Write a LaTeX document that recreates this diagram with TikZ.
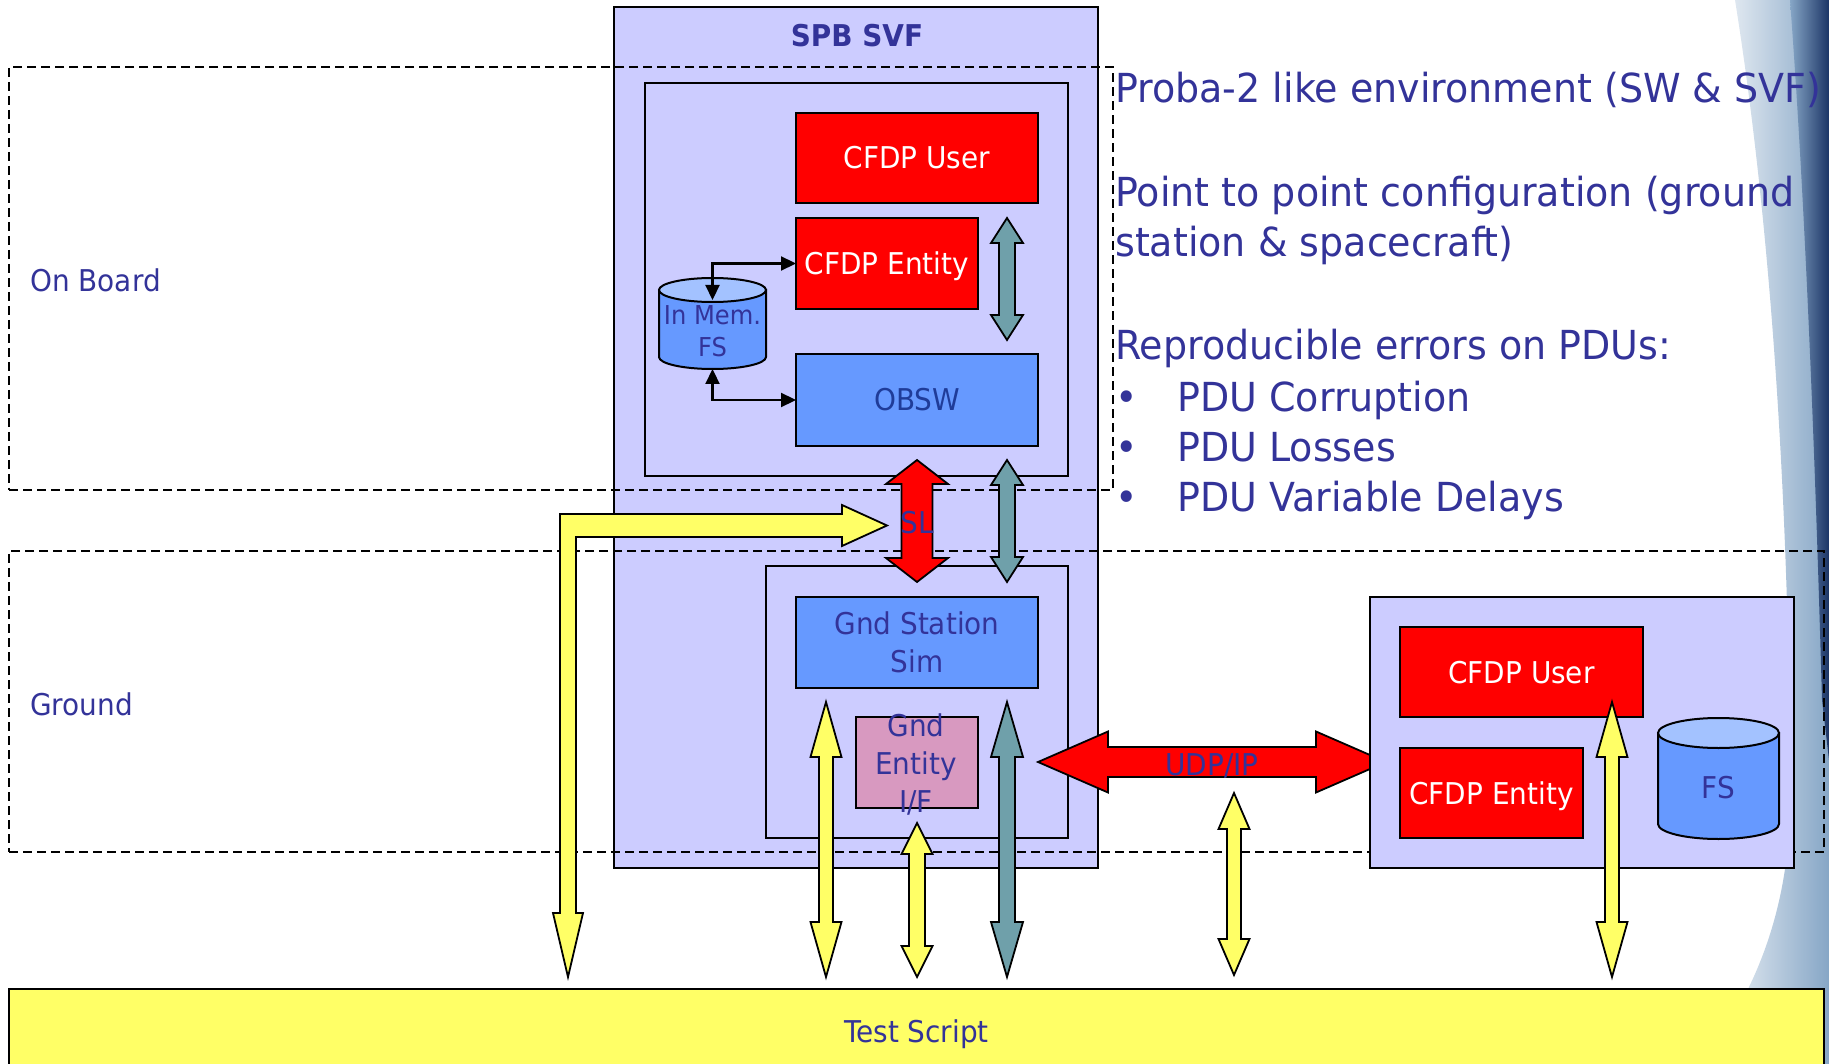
\documentclass[tikz,border=0pt]{standalone}
\usepackage{fontspec}
\setmainfont{DejaVu Sans}[FakeStretch=0.93]
\newfontfamily\bigfont{DejaVu Sans}[FakeStretch=0.95]
\usetikzlibrary{calc,arrows.meta}
\definecolor{lav}{HTML}{CCCCFF}
\definecolor{navy}{HTML}{333399}
\definecolor{obswtxt}{HTML}{1F3C99}
\definecolor{redb}{HTML}{FF0000}
\definecolor{blueb}{HTML}{6699FF}
\definecolor{bluetop}{HTML}{A3C2FF}
\definecolor{tealb}{HTML}{6FA0AA}
\definecolor{yelb}{HTML}{FFFF66}
\definecolor{pinkb}{HTML}{D899C0}
\definecolor{decoa}{HTML}{86A6C6}
\definecolor{decob}{HTML}{1C3566}
\tikzset{
  every node/.style={font=\fontsize{30}{38}\selectfont},
  blk/.style={draw=black,line width=2pt,inner sep=0pt,outer sep=0pt},
  capc/.style={text height=22pt,text depth=0pt},
  lavbox/.style={blk,fill=lav},
  redbox/.style={blk,fill=redb,text=white,capc},
  bluebox/.style={blk,fill=blueb,text=navy},
  dashbox/.style={draw=black,line width=1.6pt,dash pattern=on 9pt off 5pt,inner sep=0pt,outer sep=0pt},
  lbl/.style={text=navy,inner sep=0pt},
  barrow/.style={draw=black,line width=1.8pt,line join=miter},
  thinarrow/.style={draw=black,line width=2.2pt,{Triangle[length=15pt,width=14pt]}-{Triangle[length=15pt,width=14pt]}},
  bigtext/.style={lbl,font=\bigfont\fontsize{40}{48}\selectfont,anchor=base west},
  cylbody/.style={draw=black,line width=2pt,fill=blueb},
  cyltop/.style={draw=black,line width=2pt,fill=bluetop},
}
% block double arrow: style, start, end, shaft half width, head half width, head length
\newcommand\blockarrow[6]{%
  \coordinate (bap) at ($(#2)!#6!(#3)$);
  \coordinate (baq) at ($(#3)!#6!(#2)$);
  \filldraw[barrow,#1] (#2) -- ($(bap)!#5!90:(#3)$) -- ($(bap)!#4!90:(#3)$)
    -- ($(baq)!#4!-90:(#2)$) -- ($(baq)!#5!-90:(#2)$) -- (#3)
    -- ($(baq)!#5!90:(#2)$) -- ($(baq)!#4!90:(#2)$)
    -- ($(bap)!#4!-90:(#3)$) -- ($(bap)!#5!-90:(#3)$) -- cycle;}
\begin{document}
\begin{tikzpicture}[x=1pt,y=1pt]
\useasboundingbox (0,0) rectangle (1829,-1064);
% background decoration at the right edge
\shade[left color=white,right color=decoa] (1735,0) .. controls (1775,-250) and (1790,-550) .. (1790,-800) .. controls (1790,-900) and (1760,-990) .. (1700,-1064) -- (1829,-1064) -- (1829,0) -- cycle;
\shade[left color=decoa,right color=decob] (1790,0) .. controls (1805,-200) and (1815,-450) .. (1822,-700) -- (1829,-760) -- (1829,0) -- cycle;

% SPB SVF
\node[lavbox,minimum width=484pt,minimum height=861pt] (svf) at (856,-437.5) {};
\node[lbl,font=\bfseries\fontsize{30}{36}\selectfont,anchor=base] (svft) at (857,-46.7) {SPB SVF};
\node[lavbox,minimum width=423pt,minimum height=393pt] (obin) at (856.5,-279.5) {};
\node[lavbox,minimum width=302pt,minimum height=272pt] (gdin) at (917,-702) {};
\node[redbox,minimum width=242pt,minimum height=90pt] (cu1) at (917,-158) {CFDP User};
\node[redbox,minimum width=182pt,minimum height=91pt] (ce1) at (887,-263.5) {CFDP Entity};
\node[bluebox,capc,text=obswtxt,minimum width=242pt,minimum height=92pt] (obsw) at (917,-400) {OBSW};
\node[bluebox,align=center,minimum width=242pt,minimum height=91pt] (gss) at (917,-642.5) {Gnd Station\\Sim};
\node[blk,fill=pinkb,minimum width=122pt,minimum height=91pt] (gif) at (917,-762.5) {};
\node[lbl,align=center] (gift) at (916,-764) {Gnd\\Entity\\I/F};

% In Mem. FS cylinder
\filldraw[cylbody] (659,-290) -- (659,-357) arc[start angle=180,end angle=360,x radius=53.5,y radius=12] -- (766,-290) -- cycle;
\filldraw[cyltop] (712.5,-290) ellipse[x radius=53.5,y radius=12];
\node[lbl,align=center,font=\fontsize{26}{31.7}\selectfont] (imfs) at (712.5,-331) {In Mem.\\FS};
\coordinate (imtop) at (712.5,-300);
\coordinate (imbot) at (712.5,-369);
\draw[thinarrow] (imtop) |- (ce1.west);
\draw[thinarrow] (imbot) |- (obsw.west);

% zones
\node[dashbox,minimum width=1104pt,minimum height=423pt] (onb) at (561,-278.5) {};
\node[lbl,anchor=base west] (onbl) at (30,-291.7) {On Board};
\node[dashbox,minimum width=1815pt,minimum height=301pt] (gnd) at (916.5,-701.5) {};
\node[lbl,anchor=base west] (gndl) at (30,-715) {Ground};

% block arrows
\coordinate (ta1) at (1007,-218); \coordinate (tb1) at (1007,-340);
\blockarrow{fill=tealb}{ta1}{tb1}{8pt}{16pt}{25pt}
\coordinate (sla) at (917,-460); \coordinate (slb) at (917,-582);
\blockarrow{fill=redb}{sla}{slb}{15.5pt}{31pt}{24pt}
\coordinate (ta2) at (1007,-460); \coordinate (tb2) at (1007,-582);
\blockarrow{fill=tealb}{ta2}{tb2}{8pt}{16pt}{25pt}
\coordinate (ya) at (826,-702); \coordinate (yb) at (826,-977);
\blockarrow{fill=yelb}{ya}{yb}{7pt}{15.5pt}{55pt}
\coordinate (ta3) at (1007,-702); \coordinate (tb3) at (1007,-977);
\blockarrow{fill=tealb}{ta3}{tb3}{8pt}{16pt}{55pt}
\coordinate (yc) at (917,-823); \coordinate (yd) at (917,-977);
\blockarrow{fill=yelb}{yc}{yd}{8pt}{15.5pt}{31pt}
\coordinate (ye) at (1234,-793); \coordinate (yf) at (1234,-975);
\blockarrow{fill=yelb}{ye}{yf}{7pt}{15.5pt}{36pt}
\coordinate (ua) at (1038,-762); \coordinate (ub) at (1386,-762);
\blockarrow{fill=redb}{ua}{ub}{15pt}{30.5pt}{70pt}
% bent arrow from the test script to the space link
\coordinate (Ls) at (568,-977); \coordinate (Le) at (887,-525.5);
\filldraw[barrow,fill=yelb] (Ls) -- ++(15,64) -- ++(-7,0) -- (576,-537) -- ($(Le)+(-45,-11.5)$) -- ($(Le)+(-45,-20.5)$) -- (Le) -- ($(Le)+(-45,20.5)$) -- ($(Le)+(-45,11.5)$) -- (560,-514) -- ($(Ls)+(-8,64)$) -- ($(Ls)+(-15,64)$) -- cycle;

% right ground system
\node[lavbox,minimum width=424pt,minimum height=271pt] (rbox) at (1582,-732.5) {};
\node[redbox,minimum width=243pt,minimum height=90pt] (cu2) at (1521.5,-672) {CFDP User};
\node[redbox,minimum width=183pt,minimum height=90pt] (ce2) at (1491.5,-793) {CFDP Entity};
\filldraw[cylbody] (1658,-733) -- (1658,-824) arc[start angle=180,end angle=360,x radius=60.5,y radius=15] -- (1779,-733) -- cycle;
\filldraw[cyltop] (1718.5,-733) ellipse[x radius=60.5,y radius=15];
\node[lbl,capc] (fs) at (1718.5,-787) {FS};
\coordinate (yg) at (1612,-702); \coordinate (yh) at (1612,-977);
\blockarrow{fill=yelb}{yg}{yh}{7pt}{15.5pt}{55pt}

% test script
\node[blk,fill=yelb,text=navy,capc,minimum width=1815pt,minimum height=84pt,anchor=north west] (test) at (9,-989) {Test Script};

% labels on arrows
\node[lbl,capc] (sl) at (917,-522.5) {SL};
\node[lbl,capc] (udp) at (1212,-764) {UDP/IP};

% right-hand text
\node[bigtext] (r1) at (1115,-103) {Proba-2 like environment (SW \& SVF)};
\node[bigtext] (r2) at (1115,-207) {Point to point configuration (ground};
\node[bigtext] (r3) at (1115,-256.5) {station \& spacecraft)};
\node[bigtext] (r4) at (1115,-360) {Reproducible errors on PDUs:};
\node[bigtext] (b1) at (1115,-411.5) {•};
\node[bigtext] (r5) at (1177,-411.5) {PDU Corruption};
\node[bigtext] (b2) at (1115,-461) {•};
\node[bigtext] (r6) at (1177,-461) {PDU Losses};
\node[bigtext] (b3) at (1115,-511) {•};
\node[bigtext] (r7) at (1177,-511) {PDU Variable Delays};
\end{tikzpicture}
\end{document}
